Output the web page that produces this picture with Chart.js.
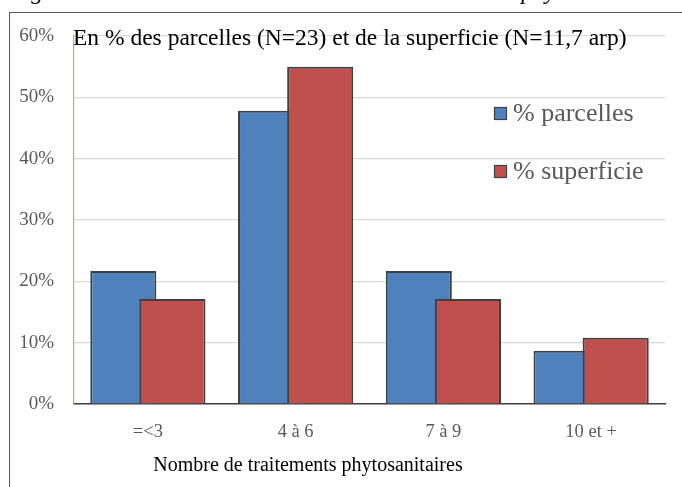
<!DOCTYPE html>
<html>
<head>
<meta charset="utf-8">
<script src="https://cdn.jsdelivr.net/npm/chart.js"></script>
<style>
  html, body { margin: 0; padding: 0; background: #fff; }
  #wrap { width: 682px; height: 487px; position: relative; }
</style>
</head>
<body>
<div id="wrap"><canvas id="chart" width="682" height="487"></canvas></div>
<script>
const categories = ['=<3', '4 à 6', '7 à 9', '10 et +'];
const parcelles = [0.217, 0.478, 0.217, 0.087];
const superficie = [0.171, 0.55, 0.171, 0.108];
const seriesLabels = ['% parcelles', '% superficie'];
const yTicks = [0, 0.1, 0.2, 0.3, 0.4, 0.5, 0.6];

const chartTitle = 'En % des parcelles (N=23) et de la superficie (N=11,7 arp)';
const axisTitle = 'Nombre de traitements phytosanitaires';
const caption = 'Figure 14 : Parcelles selon le nombre de traitements phytosanitaires';

const serif = '"Liberation Serif", "DejaVu Serif", serif';

// Chart.js paints the first dataset last (on top); here the second one must overlap it
const barOrder = {
    id: 'barOrder',
    beforeDatasetsDraw(chart) {
        chart.getSortedVisibleDatasetMetas().forEach(m => m.controller.draw());
        return false;
    }
};

// frame, clipped caption, title inside the plot, legend and x title
const decorations = {
    id: 'decorations',
    afterDraw(chart) {
        const ctx = chart.ctx;
        ctx.save();
        ctx.strokeStyle = '#595959';
        ctx.lineWidth = 1;
        ctx.strokeRect(9.5, 12.5, 700, 500);

        ctx.fillStyle = '#000';
        ctx.font = 'italic 24px ' + serif;
        ctx.textBaseline = 'alphabetic';
        ctx.textAlign = 'left';
        ctx.fillText(caption, 10, -1);

        ctx.font = '23.5px ' + serif;
        ctx.textBaseline = 'middle';
        ctx.fillText(chartTitle, 73, 39);

        const items = chart.data.datasets;
        ctx.font = '26px ' + serif;
        items.forEach(function (ds, i) {
            const y = 113 + i * 58;
            ctx.fillStyle = ds.backgroundColor;
            ctx.fillRect(494, y - 6, 13, 13);
            ctx.strokeStyle = '#404040';
            ctx.lineWidth = 1.2;
            ctx.strokeRect(494.5, y - 5.5, 12, 12);
            ctx.fillStyle = '#595959';
            ctx.fillText(ds.label, 513, y + 1);
        });

        ctx.fillStyle = '#000';
        ctx.font = '20px ' + serif;
        ctx.textAlign = 'center';
        ctx.fillText(axisTitle, 308, 466);
        ctx.restore();
    }
};

new Chart(document.getElementById('chart'), {
    type: 'bar',
    data: {
        labels: categories,
        datasets: [
            {
                label: seriesLabels[0],
                data: parcelles,
                backgroundColor: '#4f81bd',
                borderColor: '#3f3f3f',
                borderWidth: 2,
                categoryPercentage: 0.665,
                barPercentage: 1.345
            },
            {
                label: seriesLabels[1],
                data: superficie,
                backgroundColor: '#c0504d',
                borderColor: '#3f3f3f',
                borderWidth: 2,
                categoryPercentage: 0.665,
                barPercentage: 1.345
            }
        ]
    },
    options: {
        responsive: false,
        animation: false,
        layout: { padding: { left: 0, right: 17, top: 36, bottom: 0 } },
        plugins: {
            legend: { display: false },
            tooltip: { enabled: false }
        },
        scales: {
            x: {
                grid: { display: false, drawTicks: false },
                border: { display: true, color: '#404040', width: 1.5 },
                ticks: {
                    color: '#595959',
                    font: { family: serif, size: 18.5 },
                    padding: 17
                },
                afterFit(scale) { scale.height = 83; }
            },
            y: {
                min: 0,
                max: 0.6,
                afterBuildTicks(scale) {
                    scale.ticks = yTicks.map(v => ({ value: v }));
                },
                grid: {
                    color: '#d9d9d9',
                    lineWidth: 1.2,
                    drawTicks: false
                },
                border: { display: true, color: '#bfae6a', width: 1.2 },
                ticks: {
                    color: '#595959',
                    font: { family: serif, size: 19 },
                    padding: 20,
                    callback: v => Math.round(v * 100) + '%'
                },
                afterFit(scale) { scale.width = 74; }
            }
        }
    },
    plugins: [barOrder, decorations]
});
</script>
</body>
</html>
